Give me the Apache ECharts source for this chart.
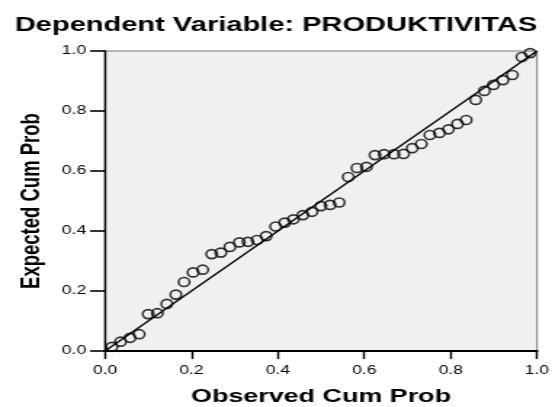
<!DOCTYPE html>
<html>
<head>
<meta charset="utf-8">
<script src="https://cdn.jsdelivr.net/npm/echarts@6/dist/echarts.min.js"></script>
<style>
  html, body { margin: 0; padding: 0; background: #ffffff; overflow: hidden; }
  /* the reference image is horizontally stretched; reproduce that stretch */
  #chart { width: 380px; height: 407px; transform: scaleX(1.45263); transform-origin: 0 0; }
</style>
</head>
<body>
<div id="chart"></div>
<script>
const titleText = 'Dependent Variable: PRODUKTIVITAS';
const xAxisName = 'Observed Cum Prob';
const yAxisName = 'Expected Cum Prob';
const tickValues = [0.0, 0.2, 0.4, 0.6, 0.8, 1.0];
const tickLabels = ['0.0', '0.2', '0.4', '0.6', '0.8', '1.0'];
const obsCumProb = [0.016,0.036,0.058,0.079,0.100,0.121,0.143,0.164,0.183,0.204,0.226,0.247,0.268,0.289,0.311,0.331,0.352,0.373,0.395,0.416,0.436,0.458,0.479,0.500,0.521,0.542,0.563,0.583,0.605,0.625,0.646,0.669,0.691,0.711,0.732,0.752,0.774,0.795,0.816,0.836,0.858,0.878,0.899,0.921,0.943,0.965,0.984];
const expCumProb = [0.014,0.031,0.044,0.056,0.123,0.126,0.157,0.188,0.230,0.262,0.271,0.323,0.328,0.347,0.362,0.364,0.370,0.383,0.415,0.428,0.439,0.453,0.464,0.483,0.487,0.495,0.580,0.610,0.614,0.653,0.656,0.656,0.657,0.676,0.690,0.720,0.727,0.739,0.757,0.770,0.837,0.867,0.887,0.903,0.920,0.980,0.993];
const refLineX = [0, 1];
const refLineY = [0, 1];

const fmt = v => {
  const i = tickValues.findIndex(t => Math.abs(t - v) < 1e-9);
  return i >= 0 ? tickLabels[i] : '';
};
const font = 'Liberation Sans, Arial, sans-serif';

const chart = echarts.init(document.getElementById('chart'));
chart.setOption({
  animation: false,
  backgroundColor: '#ffffff',
  title: {
    text: titleText,
    left: 'center',
    top: 10,
    textStyle: { fontFamily: font, fontSize: 20, fontWeight: 'bold', color: '#000000' }
  },
  grid: {
    left: 72.3, right: 10.3, top: 51, bottom: 56,
    outerBoundsMode: 'none',
    containLabel: false,
    show: true, backgroundColor: '#f0f0f0', borderColor: '#7a7a7a', borderWidth: 1
  },
  xAxis: {
    type: 'value', min: 0, max: 1, interval: 0.2,
    name: xAxisName, nameLocation: 'middle', nameGap: 36,
    nameTextStyle: { fontFamily: font, fontSize: 18.5, fontWeight: 'bold', color: '#000000' },
    axisLine: { show: true, onZero: false, lineStyle: { color: '#000000', width: 2 } },
    axisTick: { show: true, inside: false, length: 8, lineStyle: { color: '#000000', width: 1.4 } },
    axisLabel: { formatter: fmt, margin: 14, fontFamily: font, fontSize: 12, color: '#000000' },
    splitLine: { show: false }
  },
  yAxis: {
    type: 'value', min: 0, max: 1, interval: 0.2,
    name: yAxisName, nameLocation: 'middle', nameGap: 41, nameRotate: 90,
    nameTextStyle: { fontFamily: font, fontSize: 18.5, fontWeight: 'bold', color: '#000000' },
    axisLine: { show: true, onZero: false, lineStyle: { color: '#000000', width: 1.4 } },
    axisTick: { show: true, inside: false, length: 10.3, lineStyle: { color: '#000000', width: 1.6 } },
    axisLabel: { formatter: fmt, margin: 13, fontFamily: font, fontSize: 12, color: '#000000' },
    splitLine: { show: false }
  },
  series: [
    {
      type: 'line',
      data: refLineX.map((x, i) => [x, refLineY[i]]),
      symbol: 'none',
      lineStyle: { color: '#000000', width: 1.3 },
      silent: true, z: 2
    },
    {
      type: 'scatter',
      data: obsCumProb.map((x, i) => [x, expCumProb[i]]),
      symbol: 'circle',
      symbolSize: [7.6, 9],
      itemStyle: { color: 'rgba(0,0,0,0)', borderColor: '#000000', borderWidth: 1.6 },
      z: 3
    }
  ]
});
</script>
</body>
</html>
